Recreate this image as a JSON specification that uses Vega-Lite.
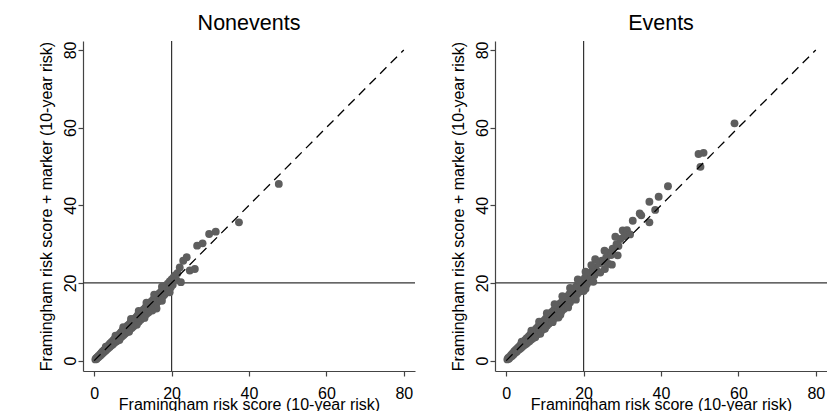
{
  "$schema": "https://vega.github.io/schema/vega-lite/v6.json",
  "padding": {"left": 38, "top": 12, "right": 0, "bottom": 0},
  "background": "white",
  "spacing": 34,
  "datasets": {
    "diag": [{"x": 0, "y": 0}, {"x": 80, "y": 80}],
    "ref": [{"v": 20}],
    "nonevents": [
      {"x":0.3,"y":0.3},{"x":0.5,"y":0.6},{"x":0.6,"y":0.4},{"x":0.8,"y":0.9},{"x":1.0,"y":0.8},{"x":1.1,"y":1.2},{"x":1.3,"y":1.1},{"x":1.5,"y":1.6},{"x":1.6,"y":1.3},{"x":1.8,"y":1.9},
      {"x":2.0,"y":1.7},{"x":2.0,"y":2.0},{"x":2.1,"y":2.3},{"x":2.3,"y":2.0},{"x":2.5,"y":2.7},{"x":2.6,"y":2.3},{"x":2.8,"y":2.9},{"x":3.0,"y":2.6},{"x":3.1,"y":3.3},{"x":3.3,"y":2.9},
      {"x":3.5,"y":3.7},{"x":3.6,"y":3.2},{"x":3.8,"y":4.0},{"x":4.0,"y":3.5},{"x":4.1,"y":4.4},{"x":4.3,"y":3.8},{"x":4.5,"y":4.8},{"x":4.7,"y":4.1},{"x":4.9,"y":5.2},{"x":5.0,"y":4.4},
      {"x":5.0,"y":5.0},{"x":5.2,"y":5.5},{"x":5.4,"y":4.7},{"x":5.6,"y":5.9},{"x":5.8,"y":5.0},{"x":6.0,"y":6.3},{"x":6.1,"y":5.3},{"x":6.3,"y":6.6},{"x":6.5,"y":5.6},{"x":6.7,"y":7.0},
      {"x":6.9,"y":6.0},{"x":7.0,"y":7.4},{"x":7.2,"y":6.3},{"x":7.4,"y":7.8},{"x":7.6,"y":6.6},{"x":7.8,"y":8.1},{"x":8.0,"y":7.0},{"x":8.0,"y":8.0},{"x":8.2,"y":8.5},{"x":8.4,"y":7.3},
      {"x":8.6,"y":9.0},{"x":8.8,"y":7.6},{"x":9.0,"y":9.3},{"x":9.2,"y":8.0},{"x":9.4,"y":9.8},{"x":9.7,"y":8.4},{"x":9.9,"y":10.2},{"x":10.1,"y":8.8},{"x":10.3,"y":10.7},{"x":10.5,"y":9.2},
      {"x":10.8,"y":11.1},{"x":11.0,"y":9.6},{"x":11.0,"y":11.0},{"x":11.2,"y":11.6},{"x":11.5,"y":10.0},{"x":11.7,"y":12.1},{"x":12.0,"y":10.5},{"x":12.2,"y":12.6},{"x":12.5,"y":11.0},{"x":12.7,"y":13.1},
      {"x":13.0,"y":11.4},{"x":13.2,"y":13.6},{"x":13.5,"y":12.0},{"x":13.7,"y":14.1},{"x":14.0,"y":12.4},{"x":14.0,"y":14.0},{"x":14.2,"y":14.6},{"x":14.5,"y":12.9},{"x":14.7,"y":15.2},{"x":15.0,"y":13.5},
      {"x":15.2,"y":15.7},{"x":15.5,"y":14.0},{"x":15.7,"y":16.2},{"x":16.0,"y":14.5},{"x":16.1,"y":13.4},{"x":16.2,"y":16.7},{"x":16.5,"y":15.2},{"x":16.7,"y":17.2},{"x":17.0,"y":15.8},{"x":17.0,"y":17.0},
      {"x":17.2,"y":17.7},{"x":17.5,"y":16.3},{"x":17.7,"y":18.2},{"x":18.0,"y":16.8},{"x":18.2,"y":18.8},{"x":18.3,"y":17.2},{"x":18.5,"y":19.3},{"x":18.8,"y":17.8},{"x":19.0,"y":19.8},{"x":19.3,"y":18.3},
      {"x":19.5,"y":19.2},{"x":19.5,"y":20.4},{"x":19.8,"y":18.9},{"x":20.0,"y":20.9},{"x":20.3,"y":19.5},{"x":20.5,"y":21.4},{"x":20.9,"y":21.9},{"x":21.2,"y":20.8},{"x":21.5,"y":22.5},{"x":22.4,"y":20.2},
      {"x":22.1,"y":24.0},{"x":23.0,"y":25.7},{"x":23.9,"y":26.6},{"x":24.7,"y":23.2},{"x":26.0,"y":23.6},{"x":26.6,"y":29.6},{"x":28.0,"y":30.2},{"x":29.7,"y":32.6},{"x":31.4,"y":33.2},{"x":37.4,"y":35.6},
      {"x":47.7,"y":45.5},
      {"x":3.0,"y":3.6},{"x":5.5,"y":6.4},{"x":7.5,"y":8.6},{"x":9.5,"y":10.7},{"x":11.5,"y":12.8},{"x":13.5,"y":14.9},{"x":15.5,"y":17.0},{"x":17.5,"y":19.0},
      {"x":6.5,"y":5.3},{"x":9.0,"y":7.4},{"x":11.0,"y":9.2},{"x":13.0,"y":11.0},{"x":15.0,"y":12.9},{"x":17.5,"y":15.4},{"x":19.5,"y":17.6}
    ],
    "events": [
      {"x":0.3,"y":0.3},{"x":0.5,"y":0.7},{"x":0.7,"y":0.5},{"x":0.9,"y":1.0},{"x":1.1,"y":0.9},{"x":1.3,"y":1.5},{"x":1.5,"y":1.2},{"x":1.7,"y":1.9},{"x":1.9,"y":1.6},{"x":2.1,"y":2.4},
      {"x":2.3,"y":2.0},{"x":2.5,"y":2.8},{"x":2.7,"y":2.3},{"x":2.9,"y":3.2},{"x":3.0,"y":3.0},{"x":3.1,"y":2.7},{"x":3.3,"y":3.6},{"x":3.5,"y":3.0},{"x":3.7,"y":4.0},{"x":3.9,"y":3.3},
      {"x":4.1,"y":4.5},{"x":4.3,"y":3.7},{"x":4.5,"y":4.9},{"x":4.7,"y":4.0},{"x":4.9,"y":5.3},{"x":5.1,"y":4.3},{"x":5.3,"y":5.8},{"x":5.5,"y":4.6},{"x":5.8,"y":6.2},{"x":6.0,"y":5.0},
      {"x":6.0,"y":6.0},{"x":6.2,"y":6.7},{"x":6.5,"y":5.4},{"x":6.7,"y":7.2},{"x":7.0,"y":5.8},{"x":7.2,"y":7.7},{"x":7.5,"y":6.3},{"x":7.7,"y":8.2},{"x":8.0,"y":6.7},{"x":8.2,"y":8.7},
      {"x":8.5,"y":7.1},{"x":8.8,"y":6.9},{"x":8.7,"y":9.3},{"x":9.0,"y":7.6},{"x":9.0,"y":9.0},{"x":9.2,"y":9.8},{"x":9.5,"y":8.1},{"x":9.7,"y":10.3},{"x":10.0,"y":8.6},{"x":10.2,"y":10.8},
      {"x":10.5,"y":9.0},{"x":10.7,"y":11.4},{"x":11.0,"y":9.5},{"x":11.2,"y":11.9},{"x":11.5,"y":10.0},{"x":11.8,"y":12.5},{"x":12.0,"y":10.5},{"x":12.0,"y":12.0},{"x":12.3,"y":13.0},{"x":12.6,"y":11.0},
      {"x":12.8,"y":13.6},{"x":13.1,"y":11.5},{"x":13.5,"y":11.1},{"x":13.4,"y":14.2},{"x":13.7,"y":12.1},{"x":14.0,"y":14.8},{"x":14.3,"y":12.7},{"x":14.6,"y":15.4},{"x":14.9,"y":13.3},{"x":15.0,"y":15.0},
      {"x":15.2,"y":16.0},{"x":15.5,"y":13.9},{"x":15.8,"y":16.6},{"x":16.1,"y":14.5},{"x":16.4,"y":17.2},{"x":16.5,"y":15.0},{"x":16.8,"y":17.8},{"x":17.1,"y":15.8},{"x":17.4,"y":18.4},{"x":17.7,"y":16.4},
      {"x":18.0,"y":19.0},{"x":18.0,"y":18.0},{"x":18.3,"y":17.1},{"x":18.6,"y":19.6},{"x":18.9,"y":17.7},{"x":19.2,"y":20.2},{"x":19.5,"y":18.3},{"x":19.8,"y":20.8},{"x":20.1,"y":18.9},{"x":20.5,"y":18.5},
      {"x":20.4,"y":21.4},{"x":20.5,"y":21.0},{"x":20.8,"y":19.6},{"x":21.0,"y":22.0},{"x":21.4,"y":20.3},{"x":21.6,"y":22.6},{"x":22.0,"y":21.0},{"x":22.3,"y":23.2},{"x":22.8,"y":22.0},{"x":23.0,"y":24.0},
      {"x":23.0,"y":26.1},{"x":23.5,"y":23.0},{"x":24.0,"y":25.0},{"x":24.3,"y":22.7},{"x":24.7,"y":25.7},{"x":25.0,"y":25.5},{"x":25.4,"y":28.3},{"x":25.8,"y":26.5},{"x":26.2,"y":27.8},{"x":26.5,"y":24.9},
      {"x":27.1,"y":27.2},{"x":27.3,"y":24.7},{"x":27.5,"y":28.8},{"x":28.2,"y":31.9},{"x":28.5,"y":30.0},{"x":29.0,"y":29.5},{"x":29.5,"y":31.3},{"x":30.1,"y":33.5},{"x":30.5,"y":32.0},{"x":31.2,"y":33.6},
      {"x":32.0,"y":32.5},{"x":32.7,"y":36.0},{"x":34.5,"y":37.9},{"x":34.9,"y":37.4},{"x":37.0,"y":40.9},{"x":37.0,"y":35.6},{"x":38.5,"y":38.8},{"x":39.4,"y":42.2},{"x":41.8,"y":44.9},{"x":49.7,"y":53.2},
      {"x":51.0,"y":53.5},{"x":50.2,"y":49.9},{"x":59.0,"y":61.1},
      {"x":4.0,"y":4.9},{"x":6.5,"y":7.7},{"x":8.5,"y":10.0},{"x":10.5,"y":12.2},{"x":12.5,"y":14.5},{"x":14.5,"y":16.6},{"x":16.5,"y":18.7},{"x":18.5,"y":20.9},{"x":20.5,"y":22.9},{"x":22.0,"y":24.6},
      {"x":7.5,"y":6.0},{"x":10.0,"y":8.2},{"x":12.0,"y":9.9},{"x":14.0,"y":11.8},{"x":16.0,"y":13.7},{"x":18.0,"y":15.7},{"x":20.0,"y":17.9},{"x":22.5,"y":20.3},{"x":25.5,"y":23.6},{"x":28.8,"y":27.1}
    ]
  },
  "hconcat": [
    {
      "width": 332,
      "height": 330,
      "title": {"text": "Nonevents"},
      "layer": [
        {"data": {"name": "ref"}, "mark": {"type": "rule", "color": "#333333", "strokeWidth": 1.2}, "encoding": {"x": {"field": "v", "type": "quantitative"}}},
        {"data": {"name": "ref"}, "mark": {"type": "rule", "color": "#333333", "strokeWidth": 1.2}, "encoding": {"y": {"field": "v", "type": "quantitative"}}},
        {
          "data": {"name": "nonevents"},
          "mark": {"type": "circle", "size": 62, "color": "#5e5e5e", "opacity": 1},
          "encoding": {
            "x": {"field": "x", "type": "quantitative", "scale": {"domain": [-2.9, 82.9], "nice": false, "zero": false}, "axis": {"values": [0, 20, 40, 60, 80], "title": "Framingham risk score (10-year risk)"}},
            "y": {"field": "y", "type": "quantitative", "scale": {"domain": [-2.68, 82.3], "nice": false, "zero": false}, "axis": {"values": [0, 20, 40, 60, 80], "title": "Framingham risk score + marker (10-year risk)"}}
          }
        },
        {
          "data": {"name": "diag"},
          "mark": {"type": "line", "color": "#000000", "strokeWidth": 1.3, "strokeDash": [9, 6]},
          "encoding": {"x": {"field": "x", "type": "quantitative"}, "y": {"field": "y", "type": "quantitative"}}
        }
      ]
    },
    {
      "width": 332,
      "height": 330,
      "title": {"text": "Events"},
      "layer": [
        {"data": {"name": "ref"}, "mark": {"type": "rule", "color": "#333333", "strokeWidth": 1.2}, "encoding": {"x": {"field": "v", "type": "quantitative"}}},
        {"data": {"name": "ref"}, "mark": {"type": "rule", "color": "#333333", "strokeWidth": 1.2}, "encoding": {"y": {"field": "v", "type": "quantitative"}}},
        {
          "data": {"name": "events"},
          "mark": {"type": "circle", "size": 62, "color": "#5e5e5e", "opacity": 1},
          "encoding": {
            "x": {"field": "x", "type": "quantitative", "scale": {"domain": [-2.9, 82.9], "nice": false, "zero": false}, "axis": {"values": [0, 20, 40, 60, 80], "title": "Framingham risk score (10-year risk)"}},
            "y": {"field": "y", "type": "quantitative", "scale": {"domain": [-2.68, 82.3], "nice": false, "zero": false}, "axis": {"values": [0, 20, 40, 60, 80], "title": "Framingham risk score + marker (10-year risk)"}}
          }
        },
        {
          "data": {"name": "diag"},
          "mark": {"type": "line", "color": "#000000", "strokeWidth": 1.3, "strokeDash": [9, 6]},
          "encoding": {"x": {"field": "x", "type": "quantitative"}, "y": {"field": "y", "type": "quantitative"}}
        }
      ]
    }
  ],
  "config": {
    "view": {"stroke": null},
    "font": "Liberation Sans",
    "title": {"font": "Liberation Sans", "fontSize": 21.5, "fontWeight": "normal", "color": "#000000", "baseline": "alphabetic", "offset": 6, "anchor": "middle"},
    "axis": {
      "labelFont": "Liberation Sans", "labelFontSize": 16, "labelColor": "#000000",
      "titleFont": "Liberation Sans", "titleFontSize": 16, "titleFontWeight": "normal", "titleColor": "#000000",
      "grid": false, "domainColor": "#444444", "tickColor": "#444444", "tickSize": 5, "domainWidth": 1.2, "tickWidth": 1.2,
      "labelOverlap": false, "labelFlush": false
    },
    "axisX": {"labelPadding": 9, "titlePadding": -5},
    "axisY": {"labelAngle": -90, "labelAlign": "center", "labelBaseline": "alphabetic", "labelPadding": 3, "titlePadding": 8}
  }
}
